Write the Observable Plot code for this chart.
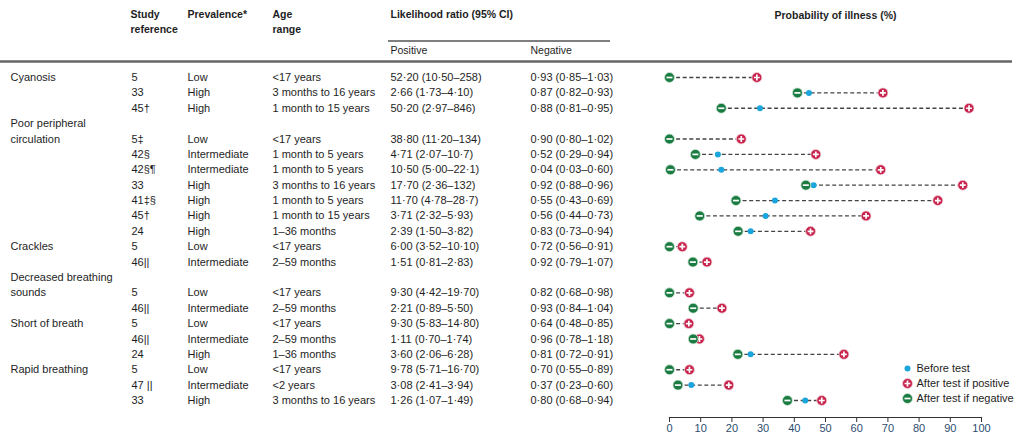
<!DOCTYPE html>
<html><head><meta charset="utf-8">
<script src="https://cdn.jsdelivr.net/npm/d3@7"></script>
<script src="https://cdn.jsdelivr.net/npm/@observablehq/plot@0.6"></script>
<style>
body{margin:0;background:#fff;}
#chart svg{font-family:"Liberation Sans",Arial,sans-serif;}
</style>
</head><body><div id="chart"></div>
<script>
// ---- data ----
const symptoms = ["Cyanosis", "Poor peripheral\ncirculation", "Crackles", "Decreased breathing\nsounds", "Short of breath", "Rapid breathing"];
const symptomIndex = [0,0,0, 1,1,1,1,1,1,1, 2,2, 3,3, 4,4,4, 5,5,5];
const studies = ["5","33","45†","5‡","42§","42§¶","33","41‡§","45†","24","5","46||","5","46||","5","46||","24","5","47 ||","33"];
const prevalence = ["Low","High","High","Low","Intermediate","Intermediate","High","High","High","High","Low","Intermediate","Low","Intermediate","Low","Intermediate","High","Low","Intermediate","High"];
const ageRange = ["<17 years","3 months to 16 years","1 month to 15 years","<17 years","1 month to 5 years","1 month to 5 years","3 months to 16 years","1 month to 5 years","1 month to 15 years","1–36 months","<17 years","2–59 months","<17 years","2–59 months","<17 years","2–59 months","1–36 months","<17 years","<2 years","3 months to 16 years"];
const lrPositive = ["52·20 (10·50–258)","2·66 (1·73–4·10)","50·20 (2·97–846)","38·80 (11·20–134)","4·71 (2·07–10·7)","10·50 (5·00–22·1)","17·70 (2·36–132)","11·70 (4·78–28·7)","3·71 (2·32–5·93)","2·39 (1·50–3·82)","6·00 (3·52–10·10)","1·51 (0·81–2·83)","9·30 (4·42–19·70)","2·21 (0·89–5·50)","9·30 (5·83–14·80)","1·11 (0·70–1·74)","3·60 (2·06–6·28)","9·78 (5·71–16·70)","3·08 (2·41–3·94)","1·26 (1·07–1·49)"];
const lrNegative = ["0·93 (0·85–1·03)","0·87 (0·82–0·93)","0·88 (0·81–0·95)","0·90 (0·80–1·02)","0·52 (0·29–0·94)","0·04 (0·03–0·60)","0·92 (0·88–0·96)","0·55 (0·43–0·69)","0·56 (0·44–0·73)","0·83 (0·73–0·94)","0·72 (0·56–0·91)","0·92 (0·79–1·07)","0·82 (0·68–0·98)","0·93 (0·84–1·04)","0·64 (0·48–0·85)","0·96 (0·78–1·18)","0·81 (0·72–0·91)","0·70 (0·55–0·89)","0·37 (0·23–0·60)","0·80 (0·68–0·94)"];
const beforeTest = [0.5,44.7,29,0.5,15.5,16.6,46.2,33.8,30.8,26,0.5,8,0.5,8,0.5,8,26,0.5,7,43.5];
const afterPositive = [28,68.4,96,23,46.9,67.7,94,86,63,45.2,4.1,12,6.4,16.8,6.2,9.6,55.9,6.4,19,48.8];
const afterNegative = [0,41,16.6,0,8.3,0.3,43.7,21.3,9.7,22,0,7.5,0,7.6,0,7.6,21.9,0,2.7,37.8];
const xTicks = [0,10,20,30,40,50,60,70,80,90,100];
const legendLabels = ["Before test", "After test if positive", "After test if negative"];

// ---- build rows (row slot index; wrapped symptom names take an extra slot) ----
const rows = [];
const labelLines = [];
let slot = -1;
symptomIndex.forEach((s, i) => {
  const lines = symptoms[s].split("\n");
  if (i === 0 || s !== symptomIndex[i - 1]) {
    slot += lines.length;
    lines.forEach((t, k) => labelLines.push({text: t, slot: slot - (lines.length - 1 - k)}));
  } else slot += 1;
  rows.push({slot, study: studies[i], prev: prevalence[i], age: ageRange[i],
    lrp: lrPositive[i], lrn: lrNegative[i], before: beforeTest[i], pos: afterPositive[i], neg: afterNegative[i]});
});

const C_BEFORE = "#1aa5dc", C_POS = "#c8234c", C_NEG = "#1b7c42", INK = "#1e1e1e";
const plusSym = {draw(ctx) { const h = 2.9; ctx.moveTo(-h,0); ctx.lineTo(h,0); ctx.moveTo(0,-h); ctx.lineTo(0,h); }};
const minusSym = {draw(ctx) { const h = 3; ctx.moveTo(-h,0); ctx.lineTo(h,0); }};

const ML = 669; // frame left (x = 0 %)
const col = (field, px, extra = {}) => Plot.text(rows, {y: "slot", text: field, frameAnchor: "left", dx: px - ML, textAnchor: "start", fontSize: 11, fill: INK, ...extra});
const head = (t, px, py, extra = {}) => Plot.text([t], {text: d => d, frameAnchor: "top-left", dx: px - ML, dy: py, textAnchor: "start", fontSize: 10.5, fontWeight: "bold", fill: INK, lineAnchor: "middle", ...extra});

const chart = Plot.plot({
  width: 1024, height: 443,
  marginLeft: ML, marginRight: 43, marginTop: 0, marginBottom: 26,
  x: {domain: [0, 100]},
  y: {domain: [0, 21], range: [77, 400], axis: null},
  marks: [
    Plot.frame({anchor: "bottom", stroke: "#333", strokeWidth: 1.2}),
    Plot.axisX(xTicks, {anchor: "bottom", tickSize: 5, tickPadding: 2, fontSize: 11, label: null, stroke: "#333", fill: "#2c4c6e"}),
    Plot.link(rows, {x1: "neg", x2: "pos", y1: "slot", y2: "slot", stroke: "#444", strokeWidth: 1.3, strokeDasharray: "4,2.6"}),
    Plot.dot(rows, {x: "before", y: "slot", r: 3, fill: C_BEFORE}),
    Plot.dot(rows, {x: "pos", y: "slot", r: 5, fill: C_POS, stroke: "#f3d6dd", strokeWidth: 0.8}),
    Plot.dot(rows, {x: "pos", y: "slot", symbol: plusSym, stroke: "#fff", strokeWidth: 1.7}),
    Plot.dot(rows, {x: "neg", y: "slot", r: 5, fill: C_NEG, stroke: "#d6eadc", strokeWidth: 0.8}),
    Plot.dot(rows, {x: "neg", y: "slot", symbol: minusSym, stroke: "#fff", strokeWidth: 1.7}),
    // table
    Plot.text(labelLines, {y: "slot", text: "text", frameAnchor: "left", dx: 10 - ML, textAnchor: "start", fontSize: 11, fill: INK}),
    col("study", 131), col("prev", 187), col("age", 272), col("lrp", 390), col("lrn", 530),
    // headers
    head("Study", 130, 14), head("reference", 130, 29),
    head("Prevalence*", 187, 14),
    head("Age", 272, 14), head("range", 272, 29),
    head("Likelihood ratio (95% CI)", 390, 14),
    head("Positive", 390, 50, {fontWeight: "normal"}), head("Negative", 530, 50, {fontWeight: "normal"}),
    head("Probability of illness (%)", 835, 15, {textAnchor: "middle"}),
    // legend
    Plot.dot([0], {frameAnchor: "top-left", dx: 907 - ML, dy: 368, r: 3, fill: C_BEFORE}),
    Plot.dot([0], {frameAnchor: "top-left", dx: 907 - ML, dy: 383, r: 5, fill: C_POS, stroke: "#f3d6dd", strokeWidth: 0.8}),
    Plot.dot([0], {frameAnchor: "top-left", dx: 907 - ML, dy: 383, symbol: plusSym, stroke: "#fff", strokeWidth: 1.7}),
    Plot.dot([0], {frameAnchor: "top-left", dx: 907 - ML, dy: 398, r: 5, fill: C_NEG, stroke: "#d6eadc", strokeWidth: 0.8}),
    Plot.dot([0], {frameAnchor: "top-left", dx: 907 - ML, dy: 398, symbol: minusSym, stroke: "#fff", strokeWidth: 1.7}),
    head(legendLabels[0], 916, 368, {fontWeight: "normal", fontSize: 11}),
    head(legendLabels[1], 916, 383, {fontWeight: "normal", fontSize: 11}),
    head(legendLabels[2], 916, 398, {fontWeight: "normal", fontSize: 11})
  ]
});

// header rules
const svg = d3.select(chart);
svg.append("line").attr("x1", 388).attr("x2", 610).attr("y1", 41).attr("y2", 41).attr("stroke", "#555").attr("stroke-width", 1.3);
svg.append("line").attr("x1", 0).attr("x2", 1012).attr("y1", 61.5).attr("y2", 61.5).attr("stroke", "#666").attr("stroke-width", 2.4);

document.getElementById("chart").appendChild(chart);
</script>
</body></html>
